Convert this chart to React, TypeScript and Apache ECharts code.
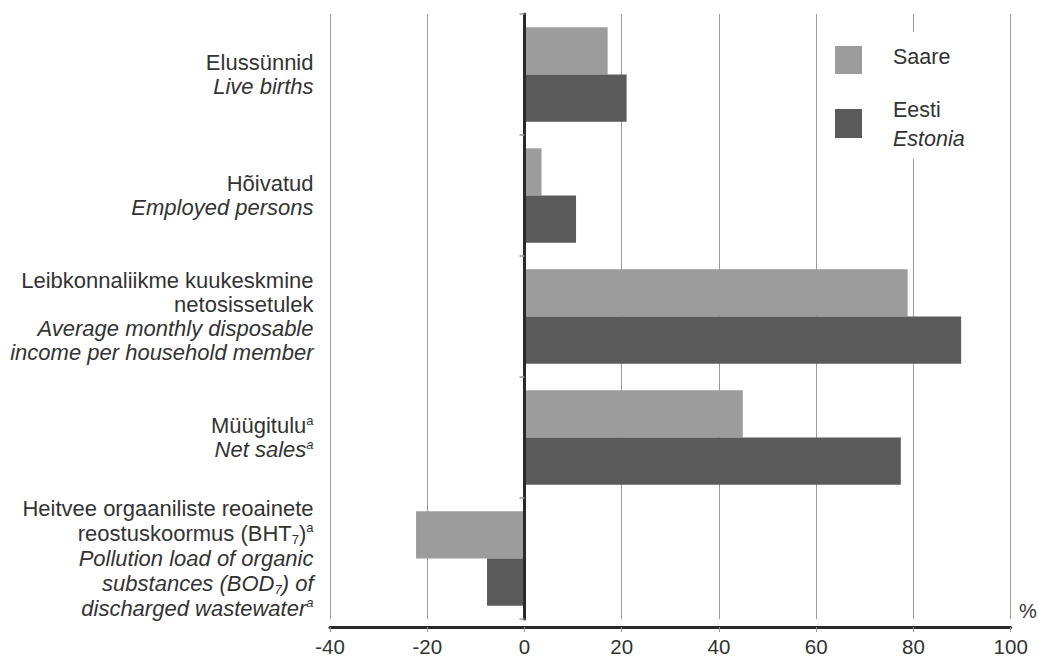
import React, { useEffect, useRef } from "react";
import * as echarts from "echarts";

const categories: string[] = [
  "{n|Elussünnid}\n{i|Live births}",
  "{n|Hõivatud}\n{i|Employed persons}",
  "{n|Leibkonnaliikme kuukeskmine}\n{n|netosissetulek}\n{i|Average monthly disposable}\n{i|income per household member}",
  "{n|Müügitulu}{sup|a}\n{i|Net sales}{supi|a}",
  "{h|Heitvee orgaaniliste reoainete}\n{h|reostuskoormus (BHT}{sub|7}{h|)}{sup|a}\n{hi|Pollution load of organic}\n{hi|substances (BOD}{subi|7}{hi|) of}\n{hi|discharged wastewater}{supi|a}",
];
const saare: number[] = [17.1, 3.5, 78.8, 44.9, -22.3];
const eesti: number[] = [21.0, 10.6, 89.8, 77.4, -7.7];
const xTicks = { min: -40, max: 100, interval: 20 };

const FONT = "'Liberation Sans', Arial, sans-serif";
const TXT = "#333333";
const GRID = "#9a9a9a";
const AXIS = "#2a2a2a";
const C_SAARE = "#9c9c9c";
const C_EESTI = "#5a5a5a";

export default function App() {
  const ref = useRef<HTMLDivElement>(null);
  useEffect(() => {
    if (!ref.current) return;
    const chart = echarts.init(ref.current, null, { renderer: "svg" });
    const base = { fontFamily: FONT, color: TXT, fontSize: 22, align: "right" as const };
    chart.setOption({
      animation: false,
      backgroundColor: "#ffffff",
      grid: { left: 330, right: 27.3, top: 14, bottom: 40, containLabel: false },
      xAxis: {
        type: "value",
        min: xTicks.min,
        max: xTicks.max,
        interval: xTicks.interval,
        offset: 8,
        axisLine: { show: true, onZero: false, lineStyle: { color: AXIS, width: 3 } },
        axisTick: { show: true, length: 5, lineStyle: { color: GRID, width: 1 } },
        axisLabel: { margin: 9, fontFamily: FONT, fontSize: 20.5, color: TXT },
        splitLine: { show: true, lineStyle: { color: GRID, width: 1 } },
      },
      yAxis: [
        {
          type: "category",
          data: categories,
          inverse: true,
          position: "left",
          axisLine: { show: false, onZero: false },
          axisTick: { show: false },
          splitLine: { show: false },
          axisLabel: {
            interval: 0,
            margin: 16.5,
            align: "right",
            rich: {
              n: { ...base, lineHeight: 24 },
              i: { ...base, lineHeight: 24, fontStyle: "italic" },
              h: { ...base, lineHeight: 25 },
              hi: { ...base, lineHeight: 25, fontStyle: "italic" },
              sup: { ...base, fontSize: 13, lineHeight: 16, verticalAlign: "top" },
              supi: { ...base, fontSize: 13, lineHeight: 16, verticalAlign: "top", fontStyle: "italic" },
              sub: { ...base, fontSize: 13, lineHeight: 12, verticalAlign: "bottom" },
              subi: { ...base, fontSize: 13, lineHeight: 12, verticalAlign: "bottom", fontStyle: "italic" },
            },
          },
        },
        {
          type: "category",
          data: categories,
          inverse: true,
          position: "left",
          z: 5,
          axisLine: { show: true, onZero: true, lineStyle: { color: AXIS, width: 3 } },
          axisTick: { show: true, length: 5, lineStyle: { color: GRID, width: 1.5 } },
          axisLabel: { show: false },
          splitLine: { show: false },
        },
      ],
      series: [
        {
          name: "Saare",
          type: "bar",
          yAxisIndex: 0,
          data: saare,
          itemStyle: { color: C_SAARE },
          barCategoryGap: "22%",
          barGap: "0%",
        },
        {
          name: "Eesti",
          type: "bar",
          yAxisIndex: 0,
          data: eesti,
          itemStyle: { color: C_EESTI },
          barCategoryGap: "22%",
          barGap: "0%",
        },
      ],
      graphic: [
        { type: "rect", shape: { x: 826, y: 32, width: 176, height: 127 }, style: { fill: "#ffffff" }, z: 10 },
        { type: "rect", shape: { x: 835, y: 46, width: 27, height: 28 }, style: { fill: C_SAARE }, z: 11 },
        {
          type: "text", x: 893, y: 57, z: 11,
          style: { text: "Saare", fontFamily: FONT, fontSize: 21.5, fill: TXT, align: "left", verticalAlign: "middle" },
        },
        { type: "rect", shape: { x: 835, y: 109, width: 27, height: 29 }, style: { fill: C_EESTI }, z: 11 },
        {
          type: "text", x: 893, y: 110, z: 11,
          style: { text: "Eesti", fontFamily: FONT, fontSize: 21.5, fill: TXT, align: "left", verticalAlign: "middle" },
        },
        {
          type: "text", x: 893, y: 138.5, z: 11,
          style: { text: "Estonia", fontFamily: FONT, fontSize: 21.5, fontStyle: "italic", fill: TXT, align: "left", verticalAlign: "middle" },
        },
        {
          type: "text", x: 1019, y: 611, z: 11,
          style: { text: "%", fontFamily: FONT, fontSize: 20, fill: TXT, align: "left", verticalAlign: "middle" },
        },
      ],
    });
    return () => chart.dispose();
  }, []);
  return (
    <div
      ref={ref}
      style={{ position: "absolute", left: 0, top: 0, width: 1038, height: 659, background: "#fff" }}
    />
  );
}
